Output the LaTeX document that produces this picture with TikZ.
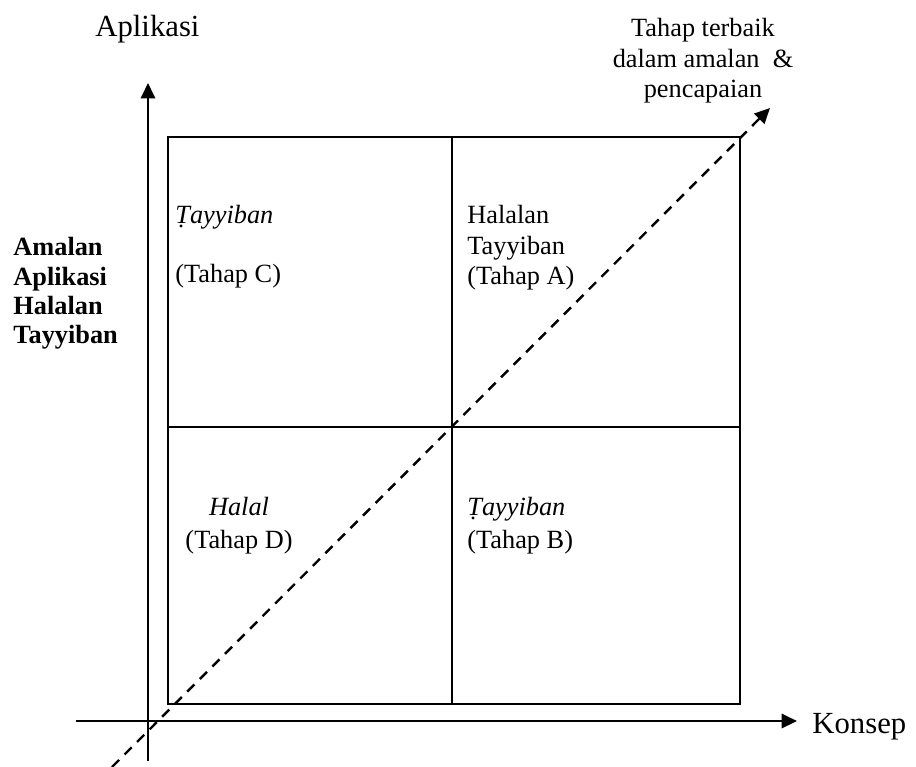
\documentclass[tikz,border=0pt]{standalone}
\usepackage{fontspec}
\setmainfont{Liberation Serif}
\usetikzlibrary{arrows.meta}

\begin{document}
\begin{tikzpicture}[x=0.456pt, y=-0.456pt,
        axis/.style={line width=1.1pt, -{Triangle[length=7pt, width=6.5pt]}},
        txt/.style={inner sep=0pt, font=\fontsize{12}{13.9}\selectfont},
        axlbl/.style={inner sep=0pt, font=\fontsize{14}{16}\selectfont}]
                \useasboundingbox (0,0) rectangle (916,766);
                \coordinate (sw) at (168,704);
                \coordinate (ne) at (740,137);
                \coordinate (mid) at (452,427);
                \coordinate (ybot) at (148,761);
                \coordinate (ytop) at (148,83);
                \coordinate (xleft) at (76,721);
                \coordinate (xright) at (797,721);
                \coordinate (dbot) at (112,767);
                \coordinate (dtop) at (770,108);
                \draw[line width=1.1pt] (sw) rectangle (ne);
                \draw[line width=0.8pt] (mid |- ne) -- (mid |- sw);
                \draw[line width=0.8pt] (mid -| sw) -- (mid -| ne);
                \draw[axis] (ybot) -- (ytop);
                \draw[axis] (xleft) -- (xright);
                \draw[axis, dash pattern=on 4.6pt off 3.5pt] (dbot) -- (dtop);
                \node[axlbl, anchor=base west] (aplikasi) at (95,36) {Aplikasi};
                \node[axlbl, anchor=base west] (konsep) at (812,733) {Konsep};
                \node[txt, align=center, anchor=north] (terbaik) at (703,18)
                    {Tahap terbaik\\dalam amalan\ \ \&\\pencapaian};
                \node[txt, align=left, anchor=north west, font=\bfseries\fontsize{12}{13.4}\selectfont] (amalan) at (13,237)
                    {Amalan\\Aplikasi\\Halalan\\Tayyiban};
                \node[txt, align=left, anchor=north west] (tahapC) at (175,205)
                    {\textit{Ṭayyiban}\\[13pt](Tahap C)};
                \node[txt, align=left, anchor=north west] (tahapA) at (467,205)
                    {Halalan\\Tayyiban\\(Tahap A)};
                \node[txt, align=center, anchor=north, font=\fontsize{12}{15}\selectfont] (tahapD) at (239,497)
                    {\textit{Halal}\\(Tahap D)};
                \node[txt, align=left, anchor=north west, font=\fontsize{12}{15}\selectfont] (tahapB) at (467,497)
                    {\textit{Ṭayyiban}\\(Tahap B)};
            \end{tikzpicture}
\end{document}
